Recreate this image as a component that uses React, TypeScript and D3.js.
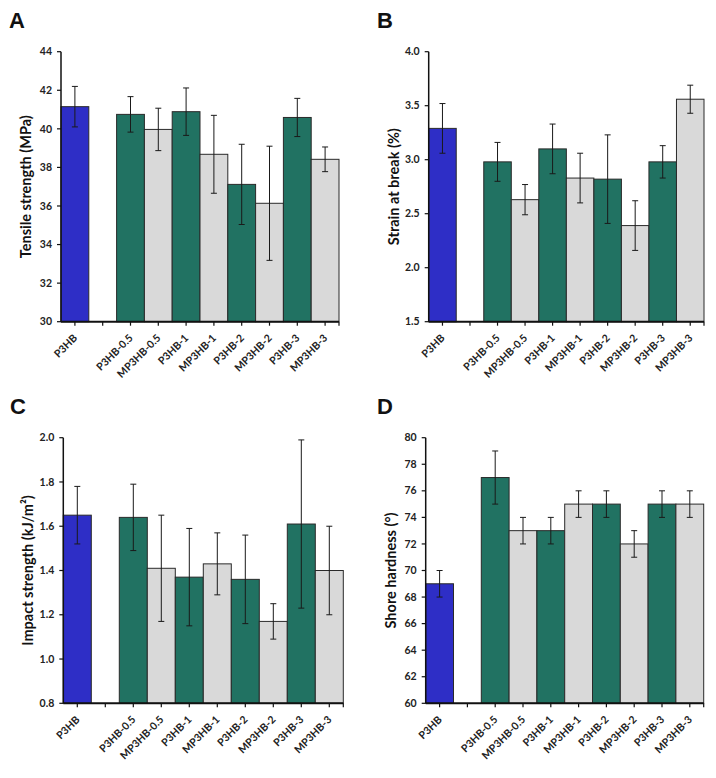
import React from 'react';
import * as d3 from 'd3';

const categories = ['P3HB', '', 'P3HB-0.5', 'MP3HB-0.5', 'P3HB-1', 'MP3HB-1', 'P3HB-2', 'MP3HB-2', 'P3HB-3', 'MP3HB-3'];
const groups = ['neat', 'gap', 'P', 'M', 'P', 'M', 'P', 'M', 'P', 'M'];

const tensileMean = [41.15, null, 40.75, 39.97, 40.89, 38.68, 37.12, 36.14, 40.59, 38.42];
const tensileErr = [1.05, null, 0.92, 1.1, 1.23, 2.02, 2.08, 2.96, 0.99, 0.64];
const tensileTicks = [30, 32, 34, 36, 38, 40, 42, 44];

const strainMean = [3.29, null, 2.98, 2.63, 3.1, 2.83, 2.82, 2.39, 2.98, 3.56];
const strainErr = [0.23, null, 0.18, 0.14, 0.23, 0.23, 0.41, 0.23, 0.15, 0.13];
const strainTicks = [1.5, 2.0, 2.5, 3.0, 3.5, 4.0];

const impactMean = [1.65, null, 1.64, 1.41, 1.37, 1.43, 1.36, 1.17, 1.61, 1.4];
const impactErr = [0.13, null, 0.15, 0.24, 0.22, 0.14, 0.2, 0.08, 0.38, 0.2];
const impactTicks = [0.8, 1.0, 1.2, 1.4, 1.6, 1.8, 2.0];

const hardnessMean = [69, null, 77, 73, 73, 75, 75, 72, 75, 75];
const hardnessErr = [1, null, 2, 1, 1, 1, 1, 1, 1, 1];
const hardnessTicks = [60, 62, 64, 66, 68, 70, 72, 74, 76, 78, 80];

const colors: Record<string, string> = { neat: '#2e2ec6', P: '#217262', M: '#d9d9d9', gap: 'none' };

const FONT = 'Lato, "Open Sans", sans-serif';

type PanelProps = {
  letter: string; lx: number; ly: number;
  title: string; ticks: number[]; fmt: string;
  x0: number; x1: number; yTop: number; yBot: number;
  mean: (number | null)[]; err: (number | null)[];
};

function Panel(p: PanelProps) {
  const x = d3.scaleBand<string>().domain(categories.map((c, i) => String(i))).range([p.x0, p.x1]).padding(0);
  const y = d3.scaleLinear().domain([p.ticks[0], p.ticks[p.ticks.length - 1]]).range([p.yBot, p.yTop]);
  const f = d3.format(p.fmt);
  const bw = x.bandwidth();
  return (
    <g>
      <text x={p.lx} y={p.ly} fontFamily='"Liberation Sans", Arial, sans-serif' fontWeight="bold" fontSize={22} fill="#111">{p.letter}</text>
      {p.mean.map((v, i) => v == null ? null : (
        <rect key={'b' + i} x={x(String(i))!} y={y(v)} width={bw} height={p.yBot - y(v)}
          fill={colors[groups[i]]} stroke="#2a2a2a" strokeWidth={1} />
      ))}
      {p.mean.map((v, i) => {
        const e = p.err[i];
        if (v == null || e == null) return null;
        const cx = x(String(i))! + bw / 2;
        return (
          <g key={'e' + i} stroke="#1a1a1a" strokeWidth={1}>
            <line x1={cx} x2={cx} y1={y(v + e)} y2={y(v - e)} />
            <line x1={cx - 3} x2={cx + 3} y1={y(v + e)} y2={y(v + e)} />
            <line x1={cx - 3} x2={cx + 3} y1={y(v - e)} y2={y(v - e)} />
          </g>
        );
      })}
      {/* y axis */}
      <line x1={p.x0} x2={p.x0} y1={p.yTop} y2={p.yBot} stroke="#111" strokeWidth={1.5} />
      {p.ticks.map((t) => (
        <g key={'yt' + t}>
          <line x1={p.x0 - 4} x2={p.x0} y1={y(t)} y2={y(t)} stroke="#111" strokeWidth={1.2} />
          <text x={p.x0 - 9} y={y(t)} dy="0.35em" textAnchor="end" fontFamily={FONT} fontWeight="bold" fontSize={10.5} fill="#222">{f(t)}</text>
        </g>
      ))}
      {/* x axis */}
      <line x1={p.x0} x2={p.x1} y1={p.yBot} y2={p.yBot} stroke="#111" strokeWidth={2} />
      <line x1={p.x1} x2={p.x1} y1={p.yBot} y2={p.yBot + 4} stroke="#111" strokeWidth={1.2} />
      {categories.map((c, i) => {
        const cx = x(String(i))! + bw / 2;
        return (
          <g key={'xt' + i}>
            <line x1={cx} x2={cx} y1={p.yBot} y2={p.yBot + 4} stroke="#111" strokeWidth={1.2} />
            {c && (
              <text transform={`translate(${cx + 3},${p.yBot + 17}) rotate(-45)`} textAnchor="end"
                fontFamily={FONT} fontWeight="bold" fontSize={10.5} fill="#222">{c}</text>
            )}
          </g>
        );
      })}
      <text transform={`translate(${p.x0 - 30},${(p.yTop + p.yBot) / 2}) rotate(-90)`} textAnchor="middle"
        fontFamily={FONT} fontWeight="bold" fontSize={14.5} fill="#111">{p.title}</text>
    </g>
  );
}

export default function App() {
  return (
    <svg width={716} height={778} style={{ position: 'absolute', left: 0, top: 0, background: '#fff' }}>
      <rect width={716} height={778} fill="#fff" />
      <Panel letter="A" lx={9} ly={28} title="Tensile strength (MPa)" ticks={tensileTicks} fmt="d"
        x0={61} x1={339} yTop={51.7} yBot={321.7} mean={tensileMean} err={tensileErr} />
      <Panel letter="B" lx={377} ly={28} title="Strain at break (%)" ticks={strainTicks} fmt=".1f"
        x0={428.7} x1={704} yTop={51.7} yBot={321.7} mean={strainMean} err={strainErr} />
      <Panel letter="C" lx={10} ly={414} title="Impact strength (kJ/m²)" ticks={impactTicks} fmt=".1f"
        x0={63.3} x1={343.3} yTop={437.7} yBot={703.3} mean={impactMean} err={impactErr} />
      <Panel letter="D" lx={377} ly={414} title="Shore hardness (°)" ticks={hardnessTicks} fmt="d"
        x0={425.7} x1={703.7} yTop={437.7} yBot={703.3} mean={hardnessMean} err={hardnessErr} />
    </svg>
  );
}
